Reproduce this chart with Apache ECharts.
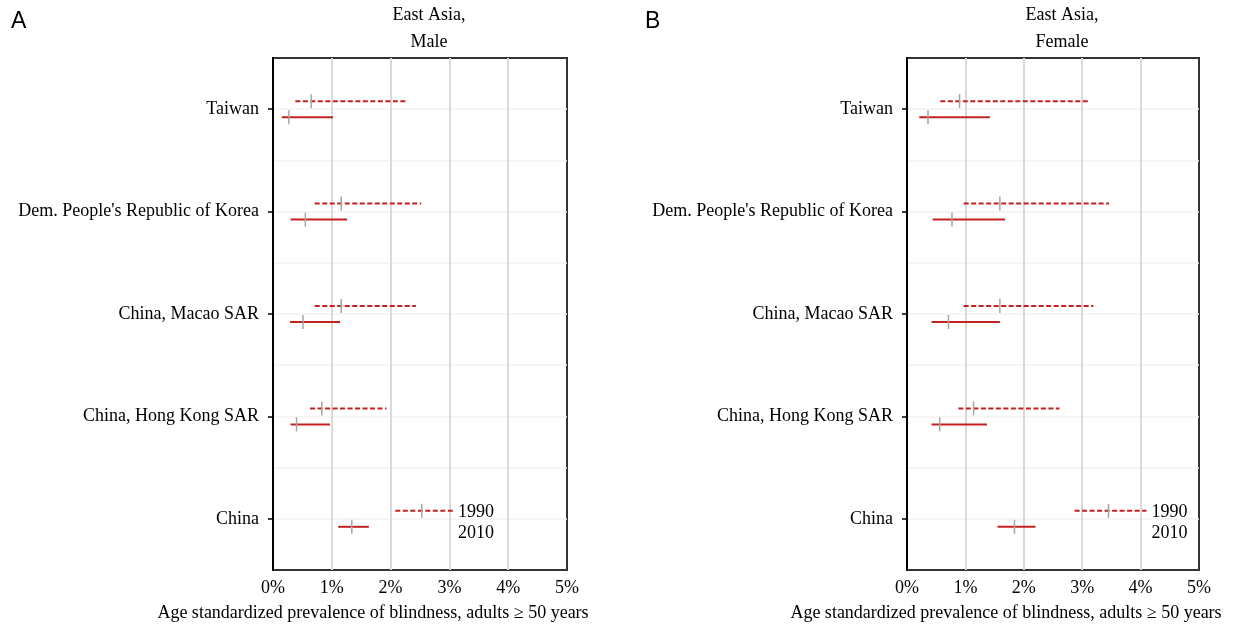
<!DOCTYPE html>
<html>
<head>
<meta charset="utf-8">
<script src="https://cdn.jsdelivr.net/npm/echarts@6/dist/echarts.min.js"></script>
<style>
  html, body { margin: 0; padding: 0; background: #fff; }
  #chart { width: 1233px; height: 624px; }
</style>
</head>
<body>
<div id="chart"></div>
<script>
  // countries, top to bottom
  const categories = ['Taiwan', "Dem. People's Republic of Korea", 'China, Macao SAR', 'China, Hong Kong SAR', 'China']

  const xTicks = [0, 1, 2, 3, 4, 5]

  // prevalence (%), male
  const male1990Mean = [0.65, 1.16, 1.16, 0.83, 2.53]
  const male1990Low = [0.38, 0.71, 0.71, 0.63, 2.08]
  const male1990High = [2.27, 2.52, 2.43, 1.93, 3.06]
  const male2010Mean = [0.27, 0.55, 0.51, 0.40, 1.34]
  const male2010Low = [0.15, 0.30, 0.29, 0.30, 1.11]
  const male2010High = [1.02, 1.26, 1.14, 0.97, 1.63]

  // prevalence (%), female
  const female1990Mean = [0.90, 1.59, 1.59, 1.14, 3.45]
  const female1990Low = [0.57, 0.97, 0.97, 0.88, 2.87]
  const female1990High = [3.13, 3.46, 3.19, 2.61, 4.10]
  const female2010Mean = [0.36, 0.77, 0.71, 0.56, 1.84]
  const female2010Low = [0.21, 0.44, 0.42, 0.42, 1.55]
  const female2010High = [1.42, 1.68, 1.59, 1.37, 2.20]

  const serif = 'Liberation Serif'
  const red = '#c42020'

  // category axis padded with blanks so grid lines fall between the rows too
  const yData = ['']
  categories.forEach(c => { yData.push(c); yData.push('') })

  function rows(low, mean, high) {
    return categories.map((c, i) => [2 * i + 1, low[i], mean[i], high[i]])
  }

  function makeRender(dashed, offset, withLegend) {
    return function (params, api) {
      const y = api.value(0)
      const lo = api.coord([api.value(1), y])
      const m = api.coord([api.value(2), y])
      const hi = api.coord([api.value(3), y])
      const yy = lo[1] + offset
      const children = [{
        type: 'line',
        shape: { x1: lo[0], y1: yy, x2: hi[0], y2: yy },
        style: { stroke: red, lineWidth: 2, lineDash: dashed ? [5, 2.5] : null }
      }, {
        type: 'line',
        shape: { x1: m[0], y1: yy - 7, x2: m[0], y2: yy + 7 },
        style: { stroke: '#a6a6a6', lineWidth: 1.5 }
      }]
      // the "1990 / 2010" key sits next to the last row
      if (withLegend && params.dataIndex === categories.length - 1) {
        children.push({
          type: 'text', x: hi[0] + 5, y: yy + 1,
          style: { text: '1990', fill: '#000', font: '18px ' + serif, verticalAlign: 'middle' }
        })
        children.push({
          type: 'text', x: hi[0] + 5, y: yy + 22,
          style: { text: '2010', fill: '#000', font: '18px ' + serif, verticalAlign: 'middle' }
        })
      }
      return { type: 'group', children: children }
    }
  }

  function xAxis(idx) {
    return {
      type: 'value', gridIndex: idx, min: xTicks[0], max: xTicks[xTicks.length - 1], interval: 1,
      axisLine: { show: false },
      axisTick: { show: false },
      axisLabel: { formatter: '{value}%', color: '#000', fontFamily: serif, fontSize: 18, margin: 9 },
      splitLine: { show: true, showMinLine: false, showMaxLine: false, lineStyle: { color: '#d9d9d9', width: 2 } }
    }
  }

  function yAxis(idx) {
    return {
      type: 'category', gridIndex: idx, data: yData, inverse: true, boundaryGap: false,
      axisLine: { show: true, lineStyle: { color: '#000', width: 2 } },
      axisTick: { show: true, length: 5, interval: (i) => i % 2 === 1, lineStyle: { color: '#000', width: 1.5 } },
      axisLabel: { interval: 0, color: '#000', fontFamily: serif, fontSize: 18, margin: 14 },
      splitLine: { show: true, interval: 0, showMinLine: false, showMaxLine: false, lineStyle: { color: '#f2f2f2', width: 1.5 } }
    }
  }

  function series(idx, low, mean, high, dashed, offset, withLegend) {
    return {
      type: 'custom', xAxisIndex: idx, yAxisIndex: idx,
      renderItem: makeRender(dashed, offset, withLegend),
      encode: { x: [1, 2, 3], y: 0 },
      data: rows(low, mean, high),
      silent: true
    }
  }

  function text(x, y, t) {
    return {
      type: 'text', x: x, y: y,
      style: { text: t, fill: '#000', font: '18px ' + serif, align: 'center', verticalAlign: 'middle', lineHeight: 27 }
    }
  }

  const chart = echarts.init(document.getElementById('chart'))
  chart.setOption({
    animation: false,
    grid: [
      { left: 273, top: 58, width: 294, height: 512, show: true, borderColor: '#333', borderWidth: 2 },
      { left: 907, top: 58, width: 292, height: 512, show: true, borderColor: '#333', borderWidth: 2 }
    ],
    xAxis: [xAxis(0), xAxis(1)],
    yAxis: [yAxis(0), yAxis(1)],
    series: [
      series(0, male1990Low, male1990Mean, male1990High, true, -8, true),
      series(0, male2010Low, male2010Mean, male2010High, false, 8, false),
      series(1, female1990Low, female1990Mean, female1990High, true, -8, true),
      series(1, female2010Low, female2010Mean, female2010High, false, 8, false)
    ],
    graphic: [
      { type: 'text', left: 11, top: 10, style: { text: 'A', fill: '#000', font: '23px Liberation Sans' } },
      { type: 'text', left: 645, top: 10, style: { text: 'B', fill: '#000', font: '23px Liberation Sans' } },
      text(429, 29, 'East Asia,\nMale'),
      text(1062, 29, 'East Asia,\nFemale'),
      text(373, 613, 'Age standardized prevalence of blindness, adults \u2265 50 years'),
      text(1006, 613, 'Age standardized prevalence of blindness, adults \u2265 50 years')
    ]
  })
</script>
</body>
</html>
